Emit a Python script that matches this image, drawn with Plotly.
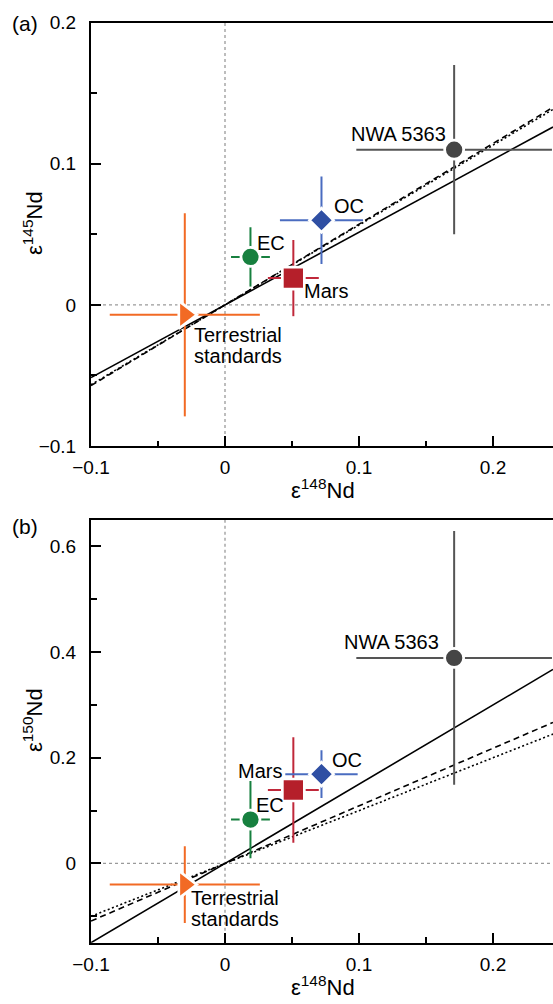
import plotly.graph_objects as go

# ---------------- data ----------------
names = ["Terrestrial standards", "EC", "Mars", "OC", "NWA 5363"]
e148 = [-0.030, 0.019, 0.051, 0.072, 0.171]
e148_err_a = [0.056, 0.0145, 0.019, 0.031, 0.073]
e148_err_b = [0.056, 0.0145, 0.019, 0.027, 0.073]
e145 = [-0.007, 0.034, 0.019, 0.060, 0.110]
e145_err = [0.072, 0.021, 0.027, 0.031, 0.060]
e150 = [-0.040, 0.083, 0.139, 0.169, 0.389]
e150_err = [0.0725, 0.073, 0.100, 0.045, 0.240]

# reference lines (slopes through origin)
slopes_a = {"solid": 0.515, "dash": 0.572, "dot": 0.566}
slopes_b = {"solid": 1.50, "dash": 1.09, "dot": 1.00}

x_ticks = [-0.1, 0, 0.1, 0.2]
x_ticktext = ["\u22120.1", "0", "0.1", "0.2"]
x_minor = [-0.05, 0.05, 0.15]
ya_ticks = [-0.1, 0, 0.1, 0.2]
ya_ticktext = ["\u22120.1", "0", "0.1", "0.2"]
ya_minor = [-0.05, 0.05, 0.15]
yb_ticks = [0, 0.2, 0.4, 0.6]
yb_ticktext = ["0", "0.2", "0.4", "0.6"]
yb_minor = [-0.1, 0.1, 0.3, 0.5]

# ---------------- style ----------------
symbols = ["triangle-right", "circle", "square", "diamond", "circle"]
colors = ["#F26A24", "#17803F", "#B51F2A", "#2F4FA3", "#454545"]
err_colors = ["#F26A24", "#17803F", "#C0283A", "#4A6CC0", "#555555"]
sizes = [24, 19, 22, 18.5, 19]
FONT = "Liberation Sans, Arial, Helvetica, sans-serif"

W, H = 553, 1004
L = 91
XR = [-0.1, -0.1 + (W - L) / 1340.0]

fig = go.Figure()

def add_panel(xa, ya, yvals, yerr, xerr, slopes):
    for dash, s in slopes.items():
        fig.add_trace(go.Scatter(
            x=XR, y=[s * v for v in XR], mode="lines",
            line=dict(color="black", width=1.6,
                      dash={"solid": "solid", "dash": "6px,4px", "dot": "2px,2.5px"}[dash]),
            xaxis=xa, yaxis=ya, showlegend=False, hoverinfo="skip"))
    for i in range(len(names)):
        fig.add_trace(go.Scatter(
            x=[e148[i]], y=[yvals[i]], mode="markers",
            marker=dict(symbol=symbols[i], size=sizes[i], color=colors[i],
                        line=dict(color="white", width=2.7)),
            error_x=dict(type="data", array=[xerr[i]], color=err_colors[i],
                         thickness=2, width=0),
            error_y=dict(type="data", array=[yerr[i]], color=err_colors[i],
                         thickness=2, width=0),
            xaxis=xa, yaxis=ya, showlegend=False, name=names[i]))

add_panel("x", "y", e145, e145_err, e148_err_a, slopes_a)
add_panel("x2", "y2", e150, e150_err, e148_err_b, slopes_b)

axis_common = dict(showgrid=False, zeroline=False, showline=True, linecolor="black",
                   linewidth=2, ticks="inside", ticklen=10, tickwidth=1.6,
                   tickcolor="black", automargin=False,
                   tickfont=dict(family=FONT, size=19, color="black"))

def xaxis(anchor):
    return dict(axis_common, domain=[0, 1], anchor=anchor, range=XR, mirror=True,
                tickmode="array", tickvals=x_ticks, ticktext=x_ticktext,
                minor=dict(tickvals=x_minor, ticks="inside", ticklen=5.5,
                           tickwidth=1.6, tickcolor="black"),
                ticklabelstandoff=3)

def yaxis(anchor, dom, rng, tv, tt, mn):
    return dict(axis_common, domain=dom, anchor=anchor, range=rng, mirror=False,
                tickmode="array", tickvals=tv, ticktext=tt,
                minor=dict(tickvals=mn, ticks="inside", ticklen=5.5,
                           tickwidth=1.6, tickcolor="black"),
                ticklabelstandoff=9)

dom_a = [1 - 446 / H, 1 - 22.7 / H]
dom_b = [1 - 942.7 / H, 1 - 520 / H]

shapes = []
for xr, yr in (("x", "y"), ("x2", "y2")):
    shapes.append(dict(type="line", xref=xr, yref=yr + " domain", x0=0, x1=0, y0=0, y1=1,
                       line=dict(color="#9a9a9a", width=1.3, dash="dot"), layer="below"))
    shapes.append(dict(type="line", xref=xr + " domain", yref=yr, x0=0, x1=1, y0=0, y1=0,
                       line=dict(color="#9a9a9a", width=1.3, dash="dot"), layer="below"))

ann = []
def lab(text, xr, yr, i, yvals, dx, dy, anchor):
    ann.append(dict(text=text, xref=xr, yref=yr, x=e148[i], y=yvals[i],
                    xanchor=anchor, yanchor="middle", xshift=dx, yshift=-dy,
                    showarrow=False, font=dict(family=FONT, size=20, color="black")))

# panel (a) labels
lab("Terrestrial", "x", "y", 0, e145, 7.5, 20, "left")
lab("standards", "x", "y", 0, e145, 7.5, 41, "left")
lab("EC", "x", "y", 1, e145, 4.6, -14, "left")
lab("Mars", "x", "y", 2, e145, 9, 13.4, "left")
lab("OC", "x", "y", 3, e145, 10.3, -14, "left")
lab("NWA 5363", "x", "y", 4, e145, -6, -16, "right")
# panel (b) labels
lab("Terrestrial", "x2", "y2", 0, e150, 4, 13, "left")
lab("standards", "x2", "y2", 0, e150, 4, 34, "left")
lab("EC", "x2", "y2", 1, e150, 3.3, -15, "left")
lab("Mars", "x2", "y2", 2, e150, -9, -19.3, "right")
lab("OC", "x2", "y2", 3, e150, 8.6, -14, "left")
lab("NWA 5363", "x2", "y2", 4, e150, -13, -16, "right")

def paper_text(text, px, py, size, angle=0):
    ann.append(dict(text=text, xref="paper", yref="paper",
                    x=(px - L) / (W - L), y=1 - py / H,
                    xanchor="center", yanchor="middle", showarrow=False, textangle=angle,
                    font=dict(family=FONT, size=size, color="black")))

paper_text("(a)", 24.5, 24, 21)
paper_text("(b)", 24.5, 526, 21)
paper_text("\u03b5<sup>148</sup>Nd", 323, 489, 22)
paper_text("\u03b5<sup>148</sup>Nd", 323, 986, 22)
paper_text("\u03b5<sup>145</sup>Nd", 33, 223, 22, -90)
paper_text("\u03b5<sup>150</sup>Nd", 33, 720, 22, -90)

fig.update_layout(
    width=W, height=H, margin=dict(l=L, r=0, t=0, b=0, autoexpand=False),
    paper_bgcolor="white", plot_bgcolor="white",
    xaxis=xaxis("y"), yaxis=yaxis("x", dom_a, [-0.1, 0.2], ya_ticks, ya_ticktext, ya_minor),
    xaxis2=xaxis("y2"), yaxis2=yaxis("x2", dom_b, [-0.15, 0.65], yb_ticks, yb_ticktext, yb_minor),
    shapes=shapes, annotations=ann, showlegend=False,
)

fig.write_html(
    "out.html",
    config={"displayModeBar": False},
    post_script="document.body.style.margin='0px';document.body.style.padding='0px';"
                "document.documentElement.style.overflow='hidden';",
)
